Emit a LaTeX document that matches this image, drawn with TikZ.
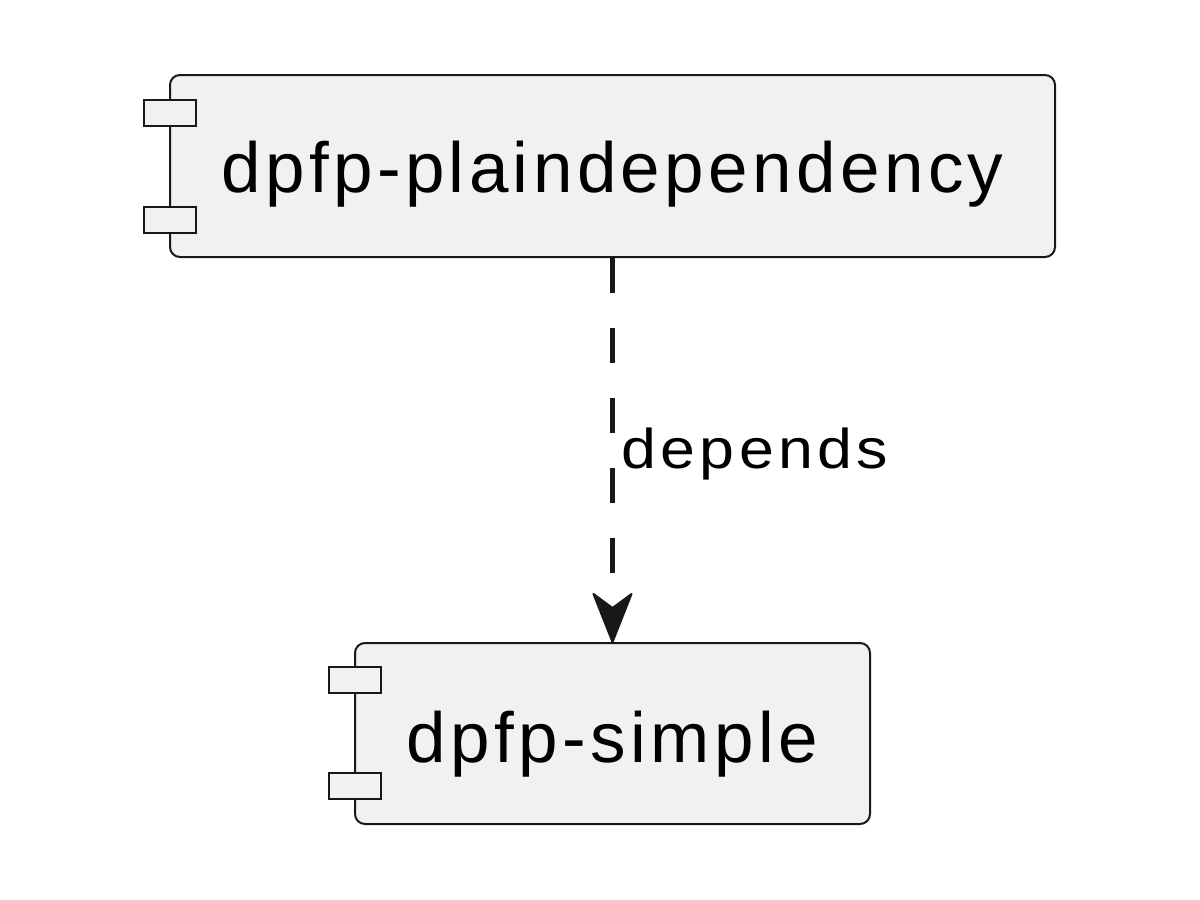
\documentclass[tikz,border=0pt]{standalone}
\usepackage{graphicx}
\usepackage{fontspec}
\setmainfont{Liberation Sans}
\newfontfamily\compfont[LetterSpace=6.2]{Liberation Sans}
\newfontfamily\labelfont[LetterSpace=7]{Liberation Sans}
\definecolor{compfill}{HTML}{F1F1F1}
\definecolor{compline}{HTML}{181818}
\begin{document}
\begin{tikzpicture}[x=0.5pt,y=-0.5pt,
  comp/.style={draw=compline, fill=compfill, line width=1pt, rounded corners=5pt,
    inner sep=0pt, font=\compfont\fontsize{35.5}{40}\selectfont},
  port/.style={draw=compline, fill=compfill, line width=1pt, inner sep=0pt,
    minimum width=26pt, minimum height=13pt},
  dep/.style={draw=compline, line width=2.2pt, dash pattern=on 17.5pt off 17.5pt},
  deptip/.style={draw=compline, fill=compline, line width=1pt, line join=round},
  deplabel/.style={font=\labelfont\fontsize{28}{32}\selectfont, inner sep=0pt, anchor=base west}]
\useasboundingbox (0,0) rectangle (1200,900);
\node[comp, minimum width=442.5pt, minimum height=91pt, text height=26pt, text depth=0pt]
  (top) at (612.5,166) {dpfp-plaindependency};
\node[port] (topp1) at (170,113) {};
\node[port] (topp2) at (170,220) {};
\node[comp, minimum width=257.5pt, minimum height=90.5pt, text height=28.5pt, text depth=0pt]
  (bot) at (612.5,733.5) {dpfp-simple};
\node[port] (botp1) at (355,679.5) {};
\node[port] (botp2) at (355,785.5) {};
\draw[dep, shorten >=17pt] (top.south) -- (bot.north);
\draw[deptip] (bot.north) -- ++(-19,-48) -- ++(19,14) -- ++(19,-14) -- cycle;
\node[deplabel] (lbl) at (621,468) {\scalebox{1.12}[1]{depends}};
\end{tikzpicture}
\end{document}
